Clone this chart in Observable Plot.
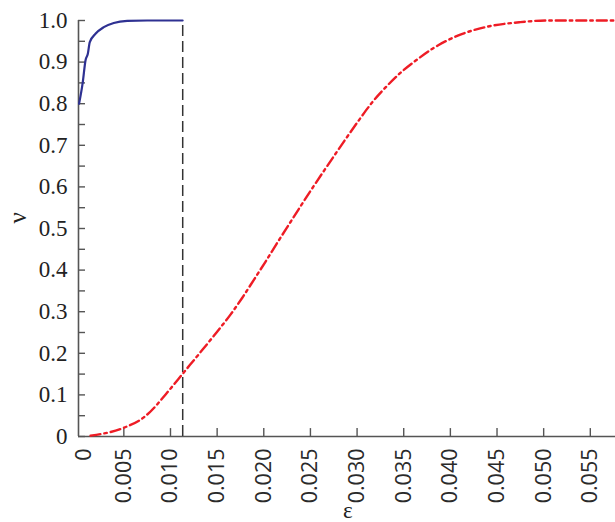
<!DOCTYPE html>
<html>
<head>
<meta charset="utf-8">
<script src="https://cdn.jsdelivr.net/npm/d3@7"></script>
<script src="https://cdn.jsdelivr.net/npm/@observablehq/plot@0.6"></script>
<style>
  html, body { margin: 0; padding: 0; background: #fff; overflow: hidden; }
  #chart { width: 615px; height: 522px; overflow: hidden; }
</style>
</head>
<body>
<div id="chart"></div>
<script>
// Blue solid curve
const blueEps = [0.0002, 0.0006, 0.00089, 0.00114, 0.00135, 0.00196, 0.00285, 0.00392, 0.00536, 0.0075, 0.0113];
const blueNu  = [0.80,   0.852,  0.904,   0.920,   0.948,   0.968,   0.984,   0.994,   0.999,   1.0,    1.0];

// Red dash-dot curve
const redEps = [0.00143, 0.0050, 0.00714, 0.0100, 0.01131, 0.01286, 0.0150, 0.01643, 0.01768, 0.01892, 0.02018, 0.02143, 0.02285, 0.02393, 0.0250, 0.02625, 0.02749, 0.02893, 0.03035, 0.03161, 0.03322, 0.03464, 0.03643, 0.03821, 0.04107, 0.04393, 0.0475, 0.05036, 0.0577];
const redNu  = [0.002,   0.021,  0.046,   0.115,  0.151,   0.193,   0.252,  0.293,   0.333,   0.376,   0.420,   0.465,   0.515,   0.553,   0.590,  0.632,   0.673,   0.720,   0.765,   0.803,   0.843,   0.874,   0.906,   0.934,   0.966,   0.985,   0.996,  1.0,     1.0];

// Vertical dashed marker
const markerEps = 0.01131;

// Axes
const xMin = 0.00014, xMax = 0.0577;
const xTicks = [0.005, 0.010, 0.015, 0.020, 0.025, 0.030, 0.035, 0.040, 0.045, 0.050, 0.055];
const xTickLabels = ["0.005", "0.010", "0.015", "0.020", "0.025", "0.030", "0.035", "0.040", "0.045", "0.050", "0.055"];
const yTicks = d3.range(0, 21).map(i => i * 0.05);
const yLabelValues = [0, 0.1, 0.2, 0.3, 0.4, 0.5, 0.6, 0.7, 0.8, 0.9, 1.0];
const yLabels = ["0", "0.1", "0.2", "0.3", "0.4", "0.5", "0.6", "0.7", "0.8", "0.9", "1.0"];
const xTitle = "ε";
const yTitle = "ν";

const blue = blueEps.map((e, i) => ({e, v: blueNu[i]}));
const red = redEps.map((e, i) => ({e, v: redNu[i]}));

const axisColor = "#555";
const serif = "'Liberation Serif', 'Times New Roman', 'DejaVu Serif', serif";
const sans = "'Open Sans', 'Liberation Sans', sans-serif";

const plot = Plot.plot({
  width: 615,
  height: 522,
  marginLeft: 78,
  marginRight: 0,
  marginTop: 20,
  marginBottom: 86,
  style: {background: "#fff", overflow: "hidden"},
  x: {domain: [xMin, xMax], axis: null},
  y: {domain: [0, 1], axis: null},
  marks: [
    // axis lines
    Plot.ruleX([xMin], {y1: 0, y2: 1, stroke: axisColor, strokeWidth: 1.6}),
    Plot.ruleY([0], {x1: xMin, x2: xMax, stroke: axisColor, strokeWidth: 1.6}),
    // inward ticks
    Plot.ruleX(xTicks, {x: d => d, y1: 0, y2: 0.019, stroke: axisColor, strokeWidth: 1.4}),
    Plot.ruleY(yTicks, {y: d => d, x1: xMin, x2: xMin + 0.00075, stroke: axisColor, strokeWidth: 1.4}),
    // y tick labels
    Plot.text(yLabelValues, {x: xMin, y: d => d, text: (d, i) => yLabels[i], textAnchor: "end", dx: -11, fontFamily: serif, fontSize: 23, fill: "#222"}),
    // x tick labels (rotated)
    Plot.text(xTicks, {x: d => d, y: 0, text: (d, i) => xTickLabels[i], rotate: -90, textAnchor: "end", dy: 12, fontFamily: sans, fontSize: 21.5, fill: "#2a2a2a"}),
    Plot.text([0], {x: d => d, y: 0, text: ["0"], rotate: -90, textAnchor: "end", dx: 7, dy: 12, fontFamily: sans, fontSize: 21.5, fill: "#2a2a2a"}),
    // axis titles
    Plot.text([yTitle], {frameAnchor: "left", text: d => d, rotate: -90, dx: -61, dy: -5, fontFamily: serif, fontSize: 25, fill: "#222"}),
    Plot.text([xTitle], {x: 0.029, frameAnchor: "bottom", text: d => d, dy: 81, lineAnchor: "bottom", fontFamily: serif, fontSize: 23, fill: "#222"}),
    // dashed vertical marker
    Plot.ruleX([markerEps], {y1: 0, y2: 1, stroke: "#333", strokeWidth: 1.5, strokeDasharray: "11,5"}),
    // curves
    Plot.line(red, {x: "e", y: "v", stroke: "#ee1c25", strokeWidth: 2.4, strokeDasharray: "10,4,2.5,4", curve: "monotone-x"}),
    Plot.line(blue, {x: "e", y: "v", stroke: "#2e3192", strokeWidth: 2.2, curve: "monotone-x"})
  ]
});
// make sure serif family wins over inherited defaults
d3.select(plot).selectAll("[font-family*='Serif']").style("font-family", serif);
document.getElementById("chart").appendChild(plot);
</script>
</body>
</html>
